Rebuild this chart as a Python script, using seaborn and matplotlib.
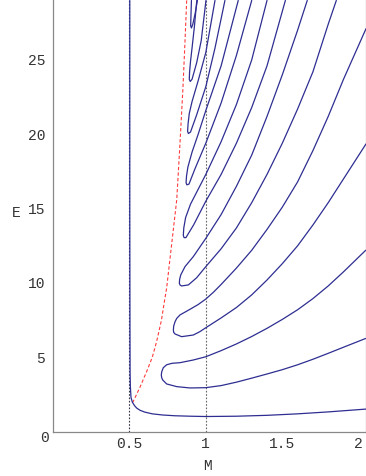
import matplotlib
matplotlib.use("Agg")
import matplotlib.pyplot as plt
import seaborn as sns
from matplotlib.ticker import MultipleLocator

sns.set_style("white")
plt.rcParams["font.family"] = ["Liberation Mono", "DejaVu Sans Mono"]

# lowest level: runs down the M=0.5 asymptote, then out along E~1
l0_m = [0.503, 0.503, 0.504, 0.505, 0.507, 0.511, 0.52, 0.535, 0.548, 0.57, 0.6, 0.65, 0.72, 0.8, 0.9, 1.0, 1.2, 1.4, 1.6, 1.8, 2.047]
l0_e = [29.0, 15.0, 8.0, 4.0, 3.0, 2.3, 1.98, 1.74, 1.59, 1.44, 1.32, 1.2, 1.12, 1.07, 1.04, 1.02, 1.04, 1.1, 1.2, 1.33, 1.52]

# tongues: upper branch (end -> tip) then lower branch (tip -> end)
t1_m = [2.045, 1.9, 1.8, 1.7, 1.6, 1.5, 1.4, 1.3, 1.2, 1.1, 1.0, 0.918, 0.831, 0.78, 0.744, 0.722, 0.712,
        0.709, 0.712, 0.718, 0.744, 0.81, 0.897, 1.0, 1.1, 1.2, 1.3, 1.4, 1.5, 1.6, 1.7, 1.8, 1.9, 2.045]
t1_e = [12.2, 10.75, 9.8, 8.95, 8.2, 7.55, 6.95, 6.4, 5.9, 5.45, 5.04, 4.82, 4.64, 4.6, 4.5, 4.3, 4.03,
        3.81, 3.62, 3.48, 3.21, 3.03, 2.94, 2.96, 3.1, 3.33, 3.6, 3.88, 4.17, 4.5, 4.87, 5.27, 5.68, 6.27]

t2_m = [2.047, 1.9, 1.8, 1.7, 1.6, 1.5, 1.4, 1.3, 1.2, 1.1, 1.05, 1.0, 0.95, 0.9, 0.831, 0.81, 0.799, 0.79,
        0.788, 0.79, 0.799, 0.842, 0.918, 0.96, 1.0, 1.1, 1.2, 1.3, 1.4, 1.5, 1.6, 1.7, 1.8, 1.9, 2.047]
t2_e = [27.1, 23.7, 21.2, 18.9, 16.8, 15.1, 13.6, 12.2, 11.0, 9.9, 9.38, 8.92, 8.55, 8.25, 7.85, 7.62, 7.4, 7.1,
        6.84, 6.68, 6.57, 6.39, 6.5, 6.72, 6.99, 7.65, 8.35, 9.2, 10.2, 11.3, 12.5, 13.9, 15.4, 17.0, 19.35]

t3_m = [1.663, 1.6, 1.5, 1.4, 1.3, 1.2, 1.1, 1.0, 0.918, 0.864, 0.836, 0.829, 0.827, 0.832, 0.842, 0.886,
        0.94, 1.0, 1.1, 1.2, 1.3, 1.4, 1.5, 1.6, 1.7, 1.8, 1.853]
t3_e = [29.0, 27.0, 24.0, 21.2, 18.6, 16.5, 14.6, 13.0, 11.77, 11.1, 10.54, 10.25, 9.98, 9.86, 9.8, 9.87,
        10.35, 11.1, 12.3, 13.7, 15.4, 17.3, 19.4, 21.7, 24.2, 27.4, 29.0]

t4_m = [1.4, 1.3, 1.2, 1.1, 1.0, 0.95, 0.9, 0.868, 0.856, 0.853, 0.858, 0.87, 0.92, 1.0, 1.1, 1.2, 1.3, 1.4, 1.52]
t4_e = [29.0, 25.0, 22.0, 19.5, 17.3, 16.3, 15.3, 14.4, 13.7, 13.2, 13.05, 13.05, 13.9, 15.5, 17.3, 19.4, 21.8, 24.6, 29.0]

t5_m = [1.212, 1.1, 1.0, 0.95, 0.91, 0.883, 0.874, 0.871, 0.876, 0.89, 0.93, 1.0, 1.1, 1.2, 1.3]
t5_e = [29.0, 24.6, 21.6, 20.0, 18.8, 17.8, 17.2, 16.75, 16.6, 16.65, 17.7, 19.4, 22.1, 25.3, 29.0]

t6_m = [1.06, 1.0, 0.95, 0.91, 0.892, 0.884, 0.881, 0.886, 0.9, 0.94, 1.0, 1.06, 1.125]
t6_e = [29.0, 25.5, 23.6, 22.2, 21.4, 20.7, 20.2, 20.05, 20.15, 21.3, 23.2, 25.8, 29.0]

t7_m = [0.941, 0.925, 0.91, 0.9, 0.894, 0.892, 0.898, 0.91, 0.94, 0.97, 1.001]
t7_e = [29.0, 27.2, 25.8, 24.9, 24.2, 23.7, 23.55, 23.7, 24.8, 26.3, 29.0]

t8_m = [0.906, 0.903, 0.901, 0.906, 0.915, 0.93, 0.945]
t8_e = [29.0, 28.0, 27.3, 27.15, 27.4, 28.1, 29.0]

# dashed boundary curve
red_m = [0.52, 0.526, 0.57, 0.614, 0.65, 0.679, 0.71, 0.733, 0.744, 0.77, 0.79, 0.81, 0.831, 0.85, 0.863, 0.875]
red_e = [1.95, 2.04, 3.0, 4.06, 5.0, 6.08, 7.5, 8.99, 9.66, 12.0, 13.8, 15.6, 19.35, 23.0, 26.0, 29.0]

curves = [(l0_m, l0_e), (t1_m, t1_e), (t2_m, t2_e), (t3_m, t3_e), (t4_m, t4_e),
          (t5_m, t5_e), (t6_m, t6_e), (t7_m, t7_e), (t8_m, t8_e)]

fig = plt.figure(figsize=(3.66, 4.76), dpi=100)
ax = fig.add_axes([0.1443, 0.0931, 0.8557, 0.9069])

# reference lines
ax.axvline(0.5, color="#333344", lw=0.8, ls=(0, (1.5, 1.5)), zorder=1)
ax.axvline(1.0, color="#666666", lw=0.8, ls=(0, (1.5, 1.5)), zorder=1)

for m, e in curves:
    sns.lineplot(x=m, y=e, sort=False, estimator=None, color="#2e2e92", lw=0.9, ax=ax, zorder=3)

sns.lineplot(x=red_m, y=red_e, sort=False, estimator=None, color="#ff3b3b", lw=0.8, ax=ax, zorder=2)
ax.lines[-1].set_linestyle((0, (3, 2)))

ax.set_xlim(0, 2.047)
ax.set_ylim(0, 29.03)

ax.set_xticks([0.5, 1, 1.5, 2])
ax.set_xticklabels(["0.5", "1", "1.5", "2"])
ax.set_yticks([5, 10, 15, 20, 25])
ax.xaxis.set_minor_locator(MultipleLocator(0.1))
ax.yaxis.set_minor_locator(MultipleLocator(1))
ax.tick_params(axis="x", which="both", direction="in", colors="#888888", labelcolor="#333333",
               labelsize=10.5, pad=4)
ax.tick_params(axis="x", which="major", length=4, width=0.8)
ax.tick_params(axis="x", which="minor", length=2.5, width=0.8)
ax.tick_params(axis="y", which="both", direction="out", colors="#888888", labelcolor="#333333",
               labelsize=10.5, pad=1.5)
ax.tick_params(axis="y", which="major", length=4, width=0.8)
ax.tick_params(axis="y", which="minor", length=2.5, width=0.8)
ax.text(-0.026, -0.0146, "0", transform=ax.transAxes, ha="center", va="center",
        fontsize=10.5, color="#333333")

for side in ["left", "bottom", "right"]:
    ax.spines[side].set_color("#888888")
    ax.spines[side].set_linewidth(0.9)
ax.spines["right"].set_color("#aaaaaa")
ax.spines["top"].set_visible(False)

ax.set_xlabel("M", fontsize=10.5, color="#333333")
ax.xaxis.set_label_coords(0.493, -0.0794)
ax.xaxis.label.set_va("center")
ax.set_ylabel("E", fontsize=10.5, color="#333333", rotation=0)
ax.yaxis.set_label_coords(-0.1175, 0.507)
ax.yaxis.label.set_va("center")
ax.yaxis.label.set_ha("center")

fig.savefig("out.png", dpi=100)
